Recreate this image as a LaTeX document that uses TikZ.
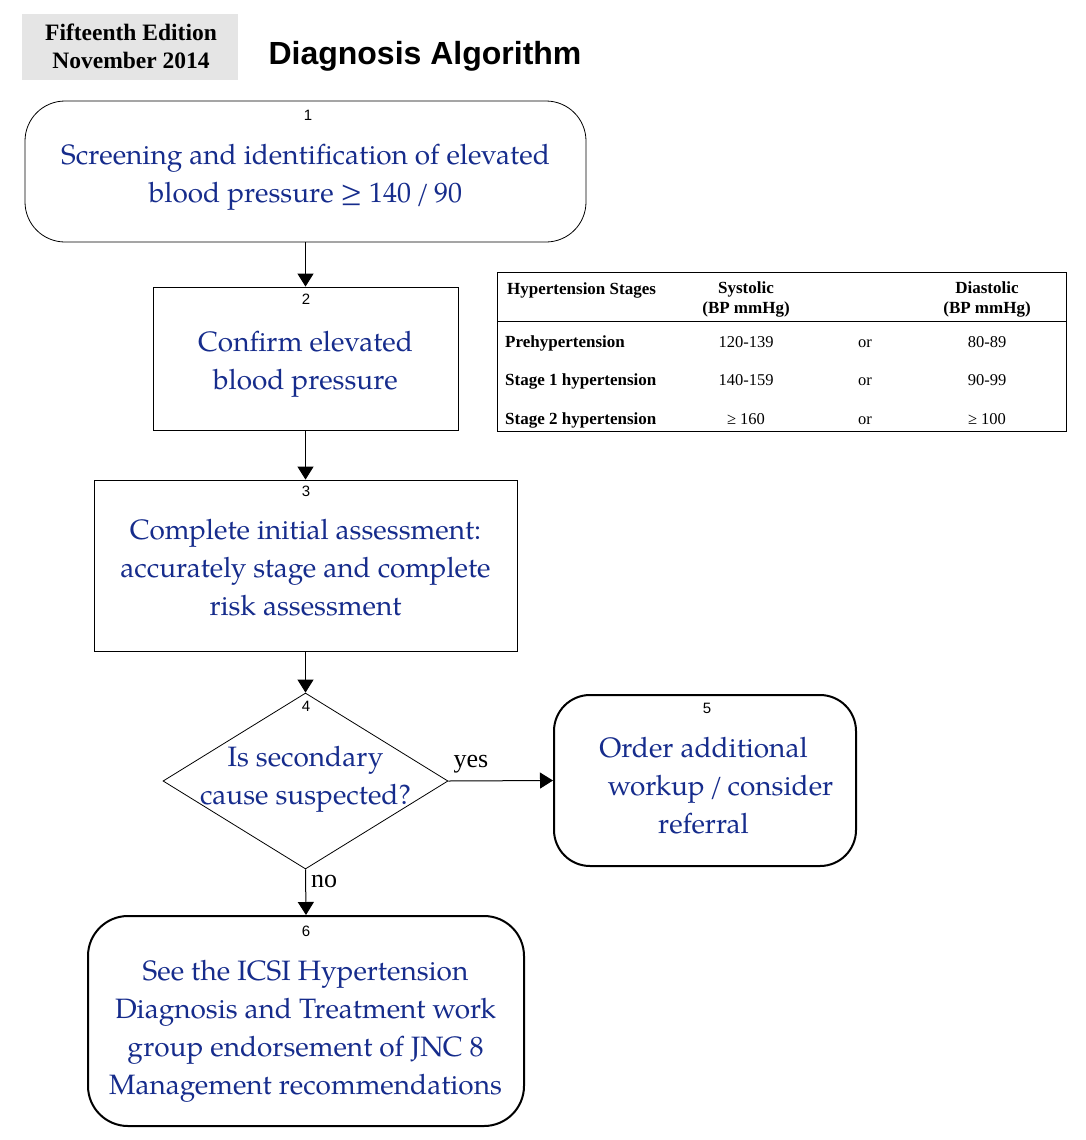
\documentclass[tikz,border=0pt]{standalone}
\usepackage{fontspec}
\setmainfont{TeX Gyre Pagella}
\newfontfamily\timesf{Liberation Serif}
\newfontfamily\arialf{Liberation Sans}
\usetikzlibrary{arrows.meta,shapes.geometric}
\definecolor{bluetxt}{RGB}{22,44,140}
\definecolor{hdrgray}{RGB}{229,229,229}
\begin{document}
\begin{tikzpicture}[x=1pt,y=-1pt,
  bluetext/.style={text=bluetxt, font=\fontsize{28}{38}\selectfont, align=center, inner sep=0pt},
  num/.style={font=\arialf\fontsize{15}{18}\selectfont, inner sep=0pt},
  thinbox/.style={draw, line width=0.8pt, inner sep=0pt},
  thickbox/.style={draw, line width=2pt, inner sep=0pt},
  arr/.style={-{Triangle[width=16pt,length=13pt]}, line width=1pt},
  tbl/.style={font=\timesf\fontsize{16.5}{20}\selectfont, inner sep=0pt, anchor=base},
  tblb/.style={font=\timesf\bfseries\fontsize{17}{20}\selectfont, inner sep=0pt, anchor=base west},
  tblh/.style={font=\timesf\bfseries\fontsize{17}{20}\selectfont, inner sep=0pt, anchor=base},
  lbl/.style={font=\timesf\fontsize{26}{30}\selectfont, inner sep=0pt}
]
\useasboundingbox (0,0) rectangle (1086,1140);
\fill[white] (0,0) rectangle (1086,1140);

% header
\node[fill=hdrgray, minimum width=216pt, minimum height=66pt, inner sep=0pt] (hdr) at (130,47) {};
\node[font=\timesf\bfseries\fontsize{23.5}{28}\selectfont, align=center, inner sep=0pt] (hdrtxt) at (131,46) {Fifteenth Edition\\November 2014};
\node[font=\arialf\bfseries\fontsize{32}{36}\selectfont, inner sep=0pt] (title) at (425,56) {Diagnosis Algorithm};

% box 1
\node[thinbox, rounded corners=40pt, minimum width=561pt, minimum height=141pt] (b1) at (305.5,171.5) {};
\node[num] (n1) at (308,115) {1};
\node[bluetext] (t1) at (305.5,177) {Screening and identification of elevated\\blood pressure ≥ 140\,/\,90};

% box 2
\node[thinbox, minimum width=305pt, minimum height=143pt] (b2) at (305.5,358.5) {};
\node[num] (n2) at (306,299) {2};
\node[bluetext] (t2) at (305.5,364) {Confirm elevated\\blood pressure};

% box 3
\node[thinbox, minimum width=423pt, minimum height=171pt] (b3) at (305.5,565.5) {};
\node[num] (n3) at (306,491) {3};
\node[bluetext] (t3) at (305.5,568) {Complete initial assessment:\\accurately stage and complete\\risk assessment};

% diamond 4
\node[thinbox, diamond, minimum width=285pt, minimum height=176pt] (d4) at (305.5,781) {};
\node[num] (n4) at (306,706) {4};
\node[bluetext] (t4) at (305.5,779) {Is secondary\\cause suspected?};

% box 5
\node[thickbox, rounded corners=36pt, minimum width=302pt, minimum height=171pt] (b5) at (705,780.5) {};
\node[num] (n5) at (707,708) {5};
\node[bluetext] (t5) at (712,786) {Order additional\hspace*{17pt}\\\hspace*{17pt}workup\,/\,consider\\referral\hspace*{17pt}};

% box 6
\node[thickbox, rounded corners=40pt, minimum width=436pt, minimum height=210pt] (b6) at (306,1021) {};
\node[num] (n6) at (306,931) {6};
\node[bluetext] (t6) at (305.5,1031) {See the ICSI Hypertension\\Diagnosis and Treatment work\\group endorsement of JNC 8\\Management recommendations};

% connectors
\draw[arr] (b1.south) -- (b2.north);
\draw[arr] (b2.south) -- (b3.north);
\draw[arr] (b3.south) -- (d4.north);
\draw[arr] (d4.east) -- (b5.west);
\draw[arr] (d4.south) -- (b6.north);
\node[lbl] (yes) at (471,764) {yes};
\node[lbl] (no) at (324,881) {no};

% table
\node[draw, line width=0.8pt, minimum width=569pt, minimum height=159pt, inner sep=0pt] (tab) at (781.5,351.5) {};
\coordinate (hl) at (497,321);
\coordinate (hr) at (1066,321);
\draw[line width=0.8pt] (hl) -- (hr);
\node[tblb] (h1) at (507,294) {Hypertension Stages};
\node[tblh] (h2a) at (746,293) {Systolic};
\node[tblh] (h2b) at (746,313) {(BP mmHg)};
\node[tblh] (h4a) at (987,293) {Diastolic};
\node[tblh] (h4b) at (987,313) {(BP mmHg)};
\node[tblb] (r1c1) at (505,347) {Prehypertension};
\node[tbl] (r1c2) at (746,347) {120-139};
\node[tbl] (r1c3) at (865,347) {or};
\node[tbl] (r1c4) at (987,347) {80-89};
\node[tblb] (r2c1) at (505,385) {Stage 1 hypertension};
\node[tbl] (r2c2) at (746,385) {140-159};
\node[tbl] (r2c3) at (865,385) {or};
\node[tbl] (r2c4) at (987,385) {90-99};
\node[tblb] (r3c1) at (505,424) {Stage 2 hypertension};
\node[tbl] (r3c2) at (746,424) {≥ 160};
\node[tbl] (r3c3) at (865,424) {or};
\node[tbl] (r3c4) at (987,424) {≥ 100};
\end{tikzpicture}
\end{document}
